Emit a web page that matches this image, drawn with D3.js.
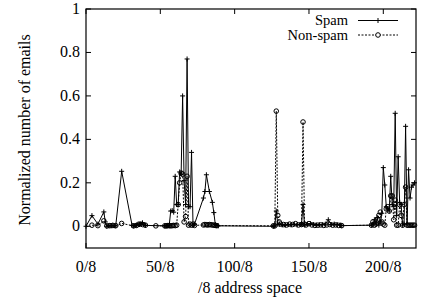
<!DOCTYPE html>
<html>
<head>
<meta charset="utf-8">
<script src="https://cdn.jsdelivr.net/npm/d3@7"></script>
<style>
  body { margin: 0; background: #fff; }
</style>
</head>
<body>
<div id="chart"></div>
<script>
// ===========Data
var spamX = [0, 4, 8, 12, 13, 14, 15, 16, 17, 18, 19, 20, 24, 31, 32, 33, 34, 35, 36, 37, 38, 39, 40,
  53, 54, 55, 56, 57, 58, 59, 60, 61, 62, 63, 64, 65, 66, 67, 68, 69, 70, 71, 72, 73,
  79, 80, 81, 83, 85, 86, 87, 88, 89,
  126, 127, 128, 129, 130, 132, 134, 136, 138, 140, 142, 144, 145, 146, 147, 149, 151, 153, 155, 157, 159, 161, 163, 165, 167, 169, 171, 172,
  192, 193, 194, 195, 196, 197, 198, 199, 200, 201, 202, 203, 204, 205, 206, 207, 208, 209, 210, 211, 212, 213, 214, 215, 216, 217, 218, 219, 220, 221];
var spamY = [0, 0.049, 0.01, 0.066, 0.02, 0, 0.002, 0.003, 0.002, 0.004, 0.002, 0.002, 0.253, 0.004, 0.002, 0.003, 0.005, 0.01, 0.008, 0.012, 0.016, 0.006, 0.004,
  0.002, 0.002, 0.003, 0.005, 0.07, 0.072, 0.065, 0.23, 0.1, 0.1, 0.25, 0.24, 0.6, 0.21, 0.1, 0.77, 0.09, 0.09, 0.34, 0.005, 0.01,
  0.13, 0.16, 0.237, 0.16, 0.11, 0.063, 0.008, 0.003, 0.002,
  0, 0.002, 0.07, 0.01, 0.008, 0.006, 0.005, 0.008, 0.006, 0.01, 0.006, 0.008, 0.01, 0.1, 0.006, 0.01, 0.012, 0.008, 0.006, 0.007, 0.008, 0.01, 0.03, 0.008, 0.01, 0.008, 0.006, 0.003,
  0.005, 0.01, 0.03, 0.01, 0.04, 0.005, 0.02, 0.06, 0.27, 0.19, 0.09, 0.08, 0.07, 0.23, 0.1, 0.09, 0.52, 0.05, 0.32, 0.11, 0.1, 0.005, 0.01, 0.46, 0.01, 0.26, 0.13, 0.18, 0.19, 0.2];

var hamX = [4, 8, 12, 14, 16, 18, 20, 24, 32, 34, 36, 38, 40, 47,
  53, 54, 55, 56, 57, 58, 59, 60, 61, 62, 63, 64, 65, 66, 67, 68, 69, 70, 71, 72, 73,
  79, 80, 81, 82, 83, 84, 85, 86, 87, 88,
  126, 127, 128, 129, 130, 131, 133, 135, 137, 139, 141, 143, 145, 146, 147, 148, 150, 152, 154, 156, 158, 160, 162, 164, 166, 168, 170, 172,
  192, 193, 194, 195, 196, 197, 198, 199, 200, 201, 202, 203, 204, 205, 206, 207, 208, 209, 210, 211, 212, 213, 214, 215, 216, 217, 218, 219, 220, 221];
var hamY = [0.005, 0.003, 0.025, 0.002, 0.003, 0.004, 0.003, 0.013, 0.002, 0.004, 0.01, 0.008, 0.005, 0.002,
  0.002, 0.002, 0.003, 0.003, 0.002, 0.003, 0.004, 0.003, 0.005, 0.1, 0.2, 0.245, 0.24, 0.02, 0.045, 0.23, 0.005, 0.01, 0.005, 0.01, 0.004,
  0.006, 0.008, 0.007, 0.006, 0.008, 0.007, 0.006, 0.005, 0.004, 0.003,
  0.002, 0.002, 0.53, 0.05, 0.02, 0.01, 0.008, 0.006, 0.01, 0.008, 0.012, 0.006, 0.008, 0.48, 0.01, 0.006, 0.012, 0.006, 0.004, 0.005, 0.006, 0.004, 0.006, 0.008, 0.005, 0.006, 0.004, 0.003,
  0.005, 0.02, 0.005, 0.01, 0.03, 0.05, 0.065, 0.02, 0.01, 0.005, 0.08, 0.09, 0.07, 0.14, 0.14, 0.03, 0.12, 0.005, 0.005, 0.1, 0.05, 0.005, 0.1, 0.18, 0.005, 0.005, 0.005, 0.005, 0.005, 0.005];

var xTicks = [0, 50, 100, 150, 200];
var yTicks = [0, 0.2, 0.4, 0.6, 0.8, 1];
var seriesNames = ["Spam", "Non-spam"];

var serif = "Liberation Serif";
var fontSize = 16;

// ===========Set Height, Width and Margins
var svgWidth = 425;
var svgHeight = 299;
var margin = { top: 9, right: 9, bottom: 51, left: 86 };
var width = svgWidth - margin.left - margin.right;
var height = svgHeight - margin.top - margin.bottom;

var svg = d3.select("#chart").append("svg")
  .attr("width", svgWidth)
  .attr("height", svgHeight);

var chartGroup = svg.append("g")
  .attr("transform", `translate(${margin.left}, ${margin.top})`);

var xScale = d3.scaleLinear().domain([0, 222]).range([0, width]);
var yScale = d3.scaleLinear().domain([-0.1, 1]).range([height, 0]);

function addText(parent, size) {
  return parent.append("text")
    .attr("font-family", serif)
    .attr("font-size", size || fontSize)
    .attr("fill", "#000");
}

// ===========Ticks (inside, mirrored like gnuplot)
var tickLen = 5;
xTicks.forEach(function(t) {
  var x = xScale(t);
  chartGroup.append("line").attr("x1", x).attr("x2", x).attr("y1", height).attr("y2", height - tickLen)
    .attr("stroke", "#000").attr("stroke-width", 1);
  chartGroup.append("line").attr("x1", x).attr("x2", x).attr("y1", 0).attr("y2", tickLen)
    .attr("stroke", "#000").attr("stroke-width", 1);
  addText(chartGroup)
    .attr("x", x).attr("y", height + 24)
    .attr("text-anchor", "middle")
    .text(t + "/8");
});
yTicks.forEach(function(t) {
  var y = yScale(t);
  chartGroup.append("line").attr("x1", 0).attr("x2", tickLen).attr("y1", y).attr("y2", y)
    .attr("stroke", "#000").attr("stroke-width", 1);
  chartGroup.append("line").attr("x1", width).attr("x2", width - tickLen).attr("y1", y).attr("y2", y)
    .attr("stroke", "#000").attr("stroke-width", 1);
  addText(chartGroup)
    .attr("x", -6).attr("y", y + 5)
    .attr("text-anchor", "end")
    .text(d3.format("")(t));
});

// ===========Lines
var spamData = spamX.map(function(x, i) { return [x, spamY[i]]; });
var hamData = hamX.map(function(x, i) { return [x, hamY[i]]; });

var line = d3.line()
  .x(d => xScale(d[0]))
  .y(d => yScale(d[1]));

chartGroup.append("path")
  .datum(spamData)
  .attr("d", line)
  .attr("fill", "none")
  .attr("stroke", "#000")
  .attr("stroke-width", 1);

chartGroup.append("path")
  .datum(hamData)
  .attr("d", line)
  .attr("fill", "none")
  .attr("stroke", "#000")
  .attr("stroke-width", 1)
  .attr("stroke-dasharray", "2,1.5");

// plus markers for spam
chartGroup.selectAll(".plus")
  .data(spamData)
  .enter()
  .append("path")
  .attr("class", "plus")
  .attr("d", d => {
    var x = xScale(d[0]), y = yScale(d[1]);
    return `M${x - 2.5},${y}H${x + 2.5}M${x},${y - 2.5}V${y + 2.5}`;
  })
  .attr("stroke", "#000")
  .attr("stroke-width", 1);

// circle markers for non-spam
chartGroup.selectAll(".circ")
  .data(hamData)
  .enter()
  .append("circle")
  .attr("class", "circ")
  .attr("cx", d => xScale(d[0]))
  .attr("cy", d => yScale(d[1]))
  .attr("r", 2.3)
  .attr("fill", "none")
  .attr("stroke", "#000")
  .attr("stroke-width", 1);

// ===========Frame
chartGroup.append("rect")
  .attr("x", 0).attr("y", 0)
  .attr("width", width).attr("height", height)
  .attr("fill", "none")
  .attr("stroke", "#000")
  .attr("stroke-width", 1.2);

// ===========Axis labels
addText(svg)
  .attr("x", margin.left + width / 2 - 1)
  .attr("y", 293)
  .attr("text-anchor", "middle")
  .text("/8 address space");

addText(svg)
  .attr("transform", "rotate(-90)")
  .attr("x", -(margin.top + 121))
  .attr("y", 30)
  .attr("text-anchor", "middle")
  .text("Normalized number of emails");

// ===========Legend
var legend = svg.append("g");
seriesNames.forEach(function(name, i) {
  var ly = 20.5 + i * 14.5;
  addText(legend, 14.5)
    .attr("x", 348).attr("y", ly + 4.5)
    .attr("text-anchor", "end")
    .text(name);
  legend.append("line")
    .attr("x1", 358).attr("x2", 398)
    .attr("y1", ly).attr("y2", ly)
    .attr("stroke", "#000").attr("stroke-width", 1)
    .attr("stroke-dasharray", i === 0 ? null : "2,1.5");
  if (i === 0) {
    legend.append("path")
      .attr("d", `M375.5,${ly}H380.5M378,${ly - 2.5}V${ly + 2.5}`)
      .attr("stroke", "#000").attr("stroke-width", 1);
  } else {
    legend.append("circle")
      .attr("cx", 378).attr("cy", ly).attr("r", 2.3)
      .attr("fill", "#fff").attr("stroke", "#000").attr("stroke-width", 1);
  }
});
</script>
</body>
</html>
